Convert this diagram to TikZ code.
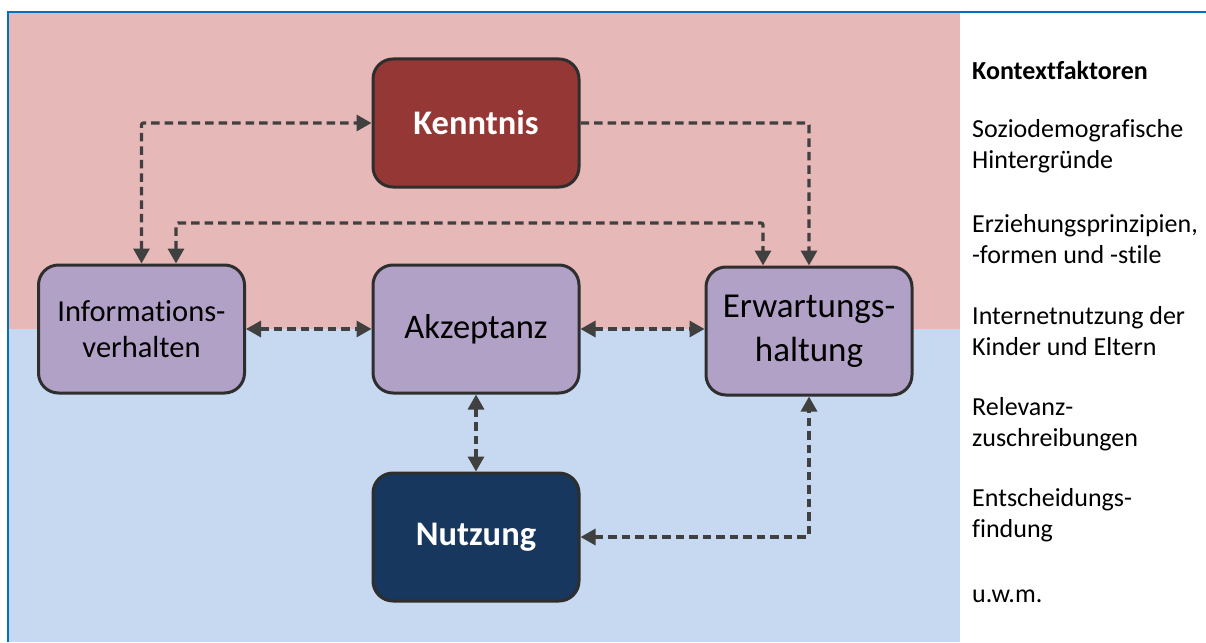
\documentclass[tikz,border=0pt]{standalone}
\usepackage{fontspec}
\setmainfont{Carlito}[Ligatures={NoCommon}]
\usetikzlibrary{arrows.meta}
\definecolor{pinkbg}{HTML}{E6B8B7}
\definecolor{bluebg}{HTML}{C6D9F0}
\definecolor{framebl}{HTML}{0070C0}
\definecolor{purplebox}{HTML}{B2A1C7}
\definecolor{redbox}{HTML}{953735}
\definecolor{navybox}{HTML}{17375E}
\definecolor{boxline}{HTML}{2E2E2E}
\definecolor{arrowc}{HTML}{404040}
\tikzset{
  box/.style={draw=boxline, line width=3pt, rounded corners=20pt, minimum width=206pt, minimum height=128pt, align=center, inner sep=0pt},
  lilabox/.style={box, fill=purplebox, text=black},
  darkbox/.style={box, text=white, font=\fontsize{34.5}{40}\selectfont\bfseries},
  conn/.style={draw=arrowc, line width=3.2pt, dash pattern=on 8.5pt off 5pt, rounded corners=2pt, {Triangle[length=15pt,width=16pt]}-{Triangle[length=15pt,width=16pt]}},
  conn1/.style={draw=arrowc, line width=3.2pt, dash pattern=on 8.5pt off 5pt, rounded corners=2pt, -{Triangle[length=15pt,width=16pt]}},
  sidetext/.style={anchor=west, align=left, inner sep=0pt, font=\fontsize{26}{30.5}\selectfont}
}
\begin{document}
\begin{tikzpicture}[x=1pt,y=-1pt]
\useasboundingbox (0,0) rectangle (1206,642);
\fill[white] (0,0) rectangle (1206,642);
\fill[pinkbg] (8,12) rectangle (960,329);
\fill[bluebg] (8,329) rectangle (960,642);
\draw[framebl, line width=2pt] (8,642) -- (8,12) -- (1206,12);

\node[darkbox, fill=redbox] (kenn) at (476,123) {Kenntnis};
\node[lilabox, font=\fontsize{30.5}{36}\selectfont] (info) at (141.5,329) {Informations-\\verhalten};
\node[lilabox, font=\fontsize{34.5}{38}\selectfont] (akz) at (476,329) {Akzeptanz};
\node[lilabox, font=\fontsize{35}{44}\selectfont] (erw) at (809,331) {Erwartungs-\\haltung};
\node[darkbox, fill=navybox] (nutz) at (476,537) {Nutzung};

\coordinate (c2) at (176,223);
\coordinate (c3) at (763,223);

\draw[conn] (info.north) |- (kenn.west);
\draw[conn] (c2 |- info.north) -- (c2) -- (c3) -- (c3 |- erw.north);
\draw[conn1] (kenn.east) -| (erw.north);
\draw[conn] (info.east) -- (akz.west);
\draw[conn] (akz.east) -- (akz.east -| erw.west);
\draw[conn] (akz.south) -- (nutz.north);
\draw[conn] (nutz.east) -| (erw.south);

\node[sidetext, font=\fontsize{26}{30.5}\selectfont\bfseries] (t0) at (972,70) {Kontextfaktoren};
\node[sidetext] (t1) at (972,146) {Soziodemografische\\Hintergründe};
\node[sidetext] (t2) at (972,239) {Erziehungsprinzipien,\\-formen und -stile};
\node[sidetext] (t3) at (972,331) {Internetnutzung der\\Kinder und Eltern};
\node[sidetext] (t4) at (972,424) {Relevanz-\\zuschreibungen};
\node[sidetext] (t5) at (972,515) {Entscheidungs-\\findung};
\node[sidetext] (t6) at (972,596) {u.w.m.};
\end{tikzpicture}
\end{document}
